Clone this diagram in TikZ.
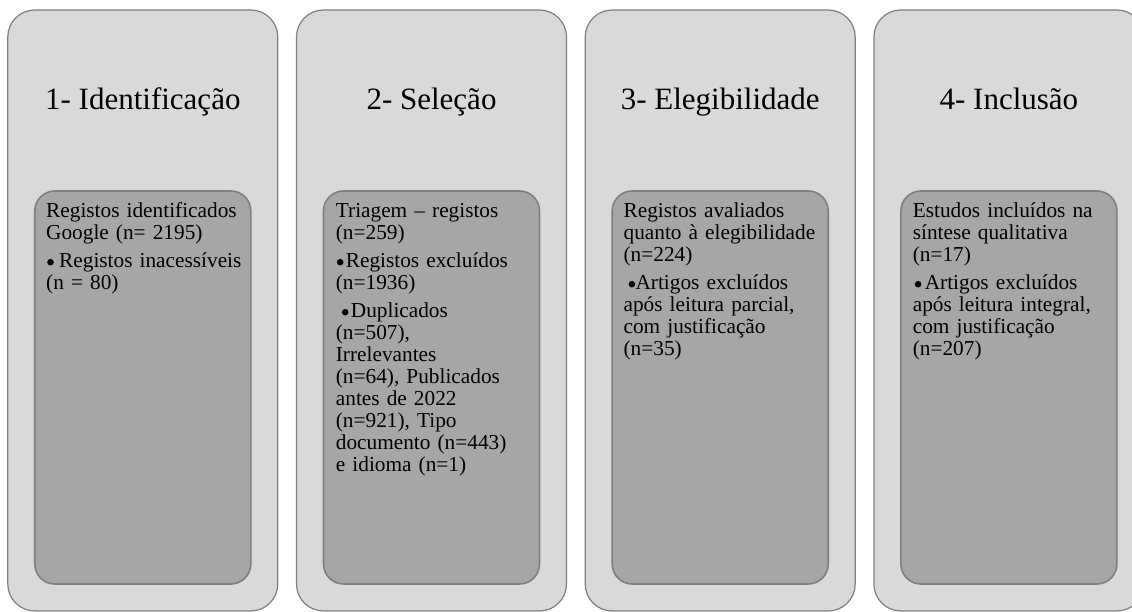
\documentclass[tikz,border=0pt]{standalone}
\usepackage{fontspec}
\setmainfont{Liberation Serif}
\usetikzlibrary{positioning}
\definecolor{fundo}{HTML}{D9D9D9}
\definecolor{cinza}{HTML}{A6A6A6}
\definecolor{borda}{HTML}{7F7F7F}
\newcommand{\marca}{\tikz[baseline=0pt]\fill (3.4bp,5bp) circle (3.3bp);}
\newcommand{\topico}[3]{\par\vspace{6bp}\hangindent=#2\relax\noindent\hspace*{#1}\makebox[\dimexpr#2-#1\relax][l]{\marca}#3}
\begin{document}
\begin{tikzpicture}[x=1bp,y=1bp,
  fase/.style={draw=borda,line width=1.2bp,fill=fundo,rounded corners=27bp,minimum width=270bp,minimum height=601bp,inner sep=0},
  caixa/.style={draw=borda,line width=1.6bp,fill=cinza,rounded corners=20bp,minimum width=216bp,minimum height=393bp,inner sep=0},
  titulo/.style={font=\fontsize{31bp}{34bp}\selectfont,inner sep=0},
  corpo/.style={font=\fontsize{21.3bp}{22bp}\selectfont,text width=210bp,align=left,inner sep=0,anchor=base west}]
\useasboundingbox (0,0) rectangle (1132,612);
\clip (0,0) rectangle (1132,612);
\foreach \i/\nome in {1/Identificação,2/Seleção,3/Elegibilidade,4/Inclusão}{
  \pgfmathsetmacro\cx{142.8+288.7*(\i-1)}
  \node[fase] (fase\i) at (\cx,301.5) {};
  \node[caixa] (caixa\i) at (\cx,224.5) {};
  \node[titulo,anchor=base] (titulo\i) at (\cx,502) {\i- \nome};
}
\node[corpo] (texto1) at ([xshift=12bp,yshift=-27bp]caixa1.north west)
  {Registos identificados\\Google (n= 2195)\par\vspace{6bp}\hspace*{1bp}\makebox[12bp][l]{\marca}Registos inacessíveis\\(n = 80)};
\node[corpo] (texto2) at ([xshift=13bp,yshift=-27bp]caixa2.north west)
  {Triagem – registos\\(n=259)
  \topico{1bp}{10bp}{Registos excluídos\\(n=1936)}
  \topico{6bp}{15bp}{Duplicados\\(n=507),\\Irrelevantes\\(n=64), Publicados\\antes de 2022\\(n=921), Tipo\\documento (n=443)\\e idioma (n=1)}};
\node[corpo] (texto3) at ([xshift=12bp,yshift=-27bp]caixa3.north west)
  {Registos avaliados\\quanto à elegibilidade\\(n=224)
  \topico{5bp}{12bp}{Artigos excluídos\\após leitura parcial,\\com justificação\\(n=35)}};
\node[corpo] (texto4) at ([xshift=12.5bp,yshift=-27bp]caixa4.north west)
  {Estudos incluídos na\\síntese qualitativa\\(n=17)
  \topico{2bp}{12bp}{Artigos excluídos\\após leitura integral,\\com justificação\\(n=207)}};
\end{tikzpicture}
\end{document}
